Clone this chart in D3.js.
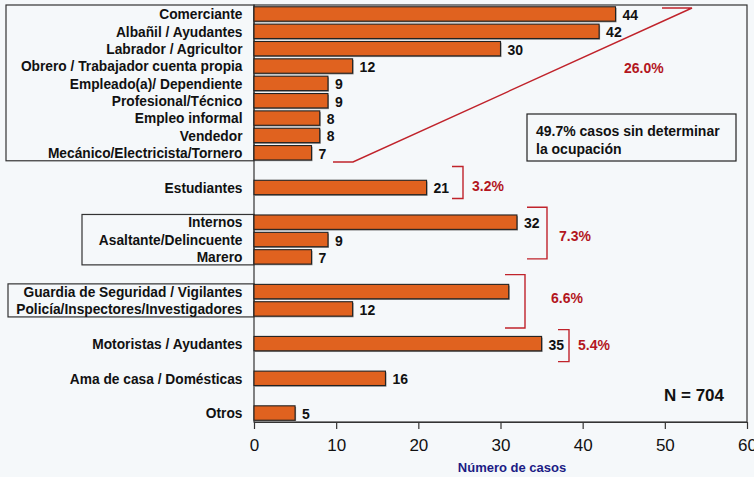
<!DOCTYPE html>
<html>
<head>
<meta charset="utf-8">
<script src="https://cdn.jsdelivr.net/npm/d3@7/dist/d3.min.js"></script>
<style>
  html, body { margin: 0; padding: 0; background: #f5f8fa; }
  svg { display: block; font-family: "Liberation Sans", Arial, sans-serif; }
</style>
</head>
<body>
<svg id="chart" width="754" height="477"></svg>
<script>
// ---- Data ----
const categories = [
  "Comerciante", "Albañil / Ayudantes", "Labrador / Agricultor",
  "Obrero / Trabajador cuenta propia", "Empleado(a)/ Dependiente",
  "Profesional/Técnico", "Empleo informal", "Vendedor",
  "Mecánico/Electricista/Tornero",
  "Estudiantes",
  "Internos", "Asaltante/Delincuente", "Marero",
  "Guardia de Seguridad / Vigilantes", "Policía/Inspectores/Investigadores",
  "Motoristas / Ayudantes",
  "Ama de casa / Domésticas",
  "Otros"
];
const values = [44, 42, 30, 12, 9, 9, 8, 8, 7, 21, 32, 9, 7, 31, 12, 35, 16, 5];
const groupSizes = [9, 1, 3, 2, 1, 1, 1];
const groupPercents = ["26.0%", "3.2%", "7.3%", "6.6%", "5.4%", null, null];
const hiddenValueLabels = ["Guardia de Seguridad / Vigilantes"];
const xTicks = [0, 10, 20, 30, 40, 50, 60];
const xTitle = "Número de casos";
const noteText = ["49.7% casos sin determinar", "la ocupación"];
const totalText = "N = 704";

// ---- Layout ----
const svg = d3.select("#chart");
const W = 754, H = 477;
const plot = { left: 254, right: 747, top: 5, bottom: 422 };
const RED = "#c0232b";
const BAR = "#e0621f";

// Build band domain with spacer slots between groups
const groups = [];
let idx = 0;
groupSizes.forEach((n, g) => {
  groups.push(categories.slice(idx, idx + n));
  idx += n;
});
const domain = [];
groups.forEach((g, i) => {
  g.forEach(c => domain.push(c));
  if (i < groups.length - 1) domain.push("__gap" + i);
});

const x = d3.scaleLinear().domain([0, 60]).range([plot.left, plot.right]);
const y = d3.scaleBand().domain(domain).range([5.3, 421.7]).paddingInner(0.17).paddingOuter(0.085);
const bw = y.bandwidth();

svg.append("rect").attr("width", W).attr("height", H).attr("fill", "#f5f8fa");

// Plot frame
svg.append("rect")
  .attr("x", plot.left).attr("y", plot.top)
  .attr("width", plot.right - plot.left).attr("height", plot.bottom - plot.top)
  .attr("fill", "none").attr("stroke", "#333").attr("stroke-width", 1.2);

// Label boxes (groups 1, 3, 4)
const boxSpecs = [
  { g: 0, left: 6, top: plot.top },
  { g: 2, left: 82 },
  { g: 3, left: 8 }
];
boxSpecs.forEach(b => {
  const grp = groups[b.g];
  const top = b.top !== undefined ? b.top : y(grp[0]) - 0.5;
  const bottom = y(grp[grp.length - 1]) + bw + 0.8;
  svg.append("rect")
    .attr("x", b.left).attr("y", top)
    .attr("width", plot.left - b.left).attr("height", bottom - top)
    .attr("fill", "none").attr("stroke", "#333").attr("stroke-width", 1.2);
});

// Bars
const data = categories.map((c, i) => ({ c, v: values[i] }));
svg.append("g").selectAll("rect.shadow").data(data).join("rect")
  .attr("x", x(0) + 1).attr("y", d => y(d.c) + 1.2)
  .attr("width", d => x(d.v) - x(0)).attr("height", bw)
  .attr("fill", "#8a8a8a");
svg.append("g").selectAll("rect.bar").data(data).join("rect")
  .attr("x", x(0)).attr("y", d => y(d.c))
  .attr("width", d => x(d.v) - x(0)).attr("height", bw)
  .attr("fill", BAR).attr("stroke", "#222").attr("stroke-width", 1.1);

// Category labels
svg.append("g").selectAll("text").data(data).join("text")
  .attr("x", 242.5).attr("y", d => y(d.c) + bw / 2 + 0.8)
  .attr("text-anchor", "end").attr("dominant-baseline", "central")
  .attr("font-size", 13.75).attr("font-weight", "bold").attr("fill", "#111")
  .text(d => d.c);

// Value labels
svg.append("g").selectAll("text")
  .data(data.filter(d => !hiddenValueLabels.includes(d.c))).join("text")
  .attr("x", d => x(d.v) + 7).attr("y", d => y(d.c) + bw / 2 + 1)
  .attr("dominant-baseline", "central")
  .attr("font-size", 14).attr("font-weight", "bold").attr("fill", "#111")
  .text(d => d.v);

// X axis
const xAxis = d3.axisBottom(x).tickValues(xTicks).tickSize(7).tickSizeOuter(0).tickPadding(10);
const ax = svg.append("g").attr("transform", `translate(0,${plot.bottom})`).call(xAxis);
ax.select(".domain").attr("stroke", "#333").attr("stroke-width", 1.2);
ax.selectAll(".tick line").attr("stroke", "#333").attr("stroke-width", 1.2);
ax.selectAll(".tick text").attr("font-size", 17).attr("fill", "#111")
  .attr("font-family", "'Liberation Sans', Arial, sans-serif");

svg.append("text")
  .attr("x", 512).attr("y", 471.5)
  .attr("text-anchor", "middle")
  .attr("font-size", 13).attr("font-weight", "bold").attr("fill", "#1c1c85")
  .text(xTitle);

// ---- Red annotations ----
const red = svg.append("g").attr("fill", "none").attr("stroke", RED).attr("stroke-width", 1.4);
// Group 1 big connector
const g1Last = groups[0][groups[0].length - 1];
const g1y = y(g1Last) + bw + 2;
red.append("polyline")
  .attr("points", [[662, 8], [692, 8], [353, g1y], [333, g1y]].map(p => p.join(",")).join(" "));

// Square brackets: [xLeft, xRight, yTop, yBottom]
function bracket(xl, xr, yt, yb) {
  red.append("polyline")
    .attr("points", [[xl, yt], [xr, yt], [xr, yb], [xl, yb]].map(p => p.join(",")).join(" "));
}
const c = name => y(name) + bw / 2;
bracket(452, 463, c("Estudiantes") - 21, c("Estudiantes") + 11);
bracket(527, 547, c("Internos") - 15, c("Marero") + 2);
bracket(505, 525, c("Guardia de Seguridad / Vigilantes") - 17, c("Policía/Inspectores/Investigadores") + 19);
bracket(558, 569, c("Motoristas / Ayudantes") - 14, c("Motoristas / Ayudantes") + 18);

const pctPos = [
  [624, 68],
  [472, c("Estudiantes") - 1],
  [559, 236],
  [551, 298],
  [578, c("Motoristas / Ayudantes") + 1]
];
pctPos.forEach((p, i) => {
  svg.append("text")
    .attr("x", p[0]).attr("y", p[1])
    .attr("dominant-baseline", "central")
    .attr("font-size", 14).attr("font-weight", "bold").attr("fill", "#b3161e")
    .text(groupPercents[i]);
});

// Note box
svg.append("rect").attr("x", 527).attr("y", 114).attr("width", 209).attr("height", 47)
  .attr("fill", "none").attr("stroke", "#222").attr("stroke-width", 1.2);
noteText.forEach((t, i) => {
  svg.append("text")
    .attr("x", 536).attr("y", 136 + i * 18)
    .attr("font-size", 14).attr("font-weight", "bold").attr("fill", "#111")
    .text(t);
});

// N total
svg.append("text")
  .attr("x", 724).attr("y", 401)
  .attr("text-anchor", "end")
  .attr("font-size", 17).attr("font-weight", "bold").attr("fill", "#111")
  .text(totalText);
</script>
</body>
</html>
